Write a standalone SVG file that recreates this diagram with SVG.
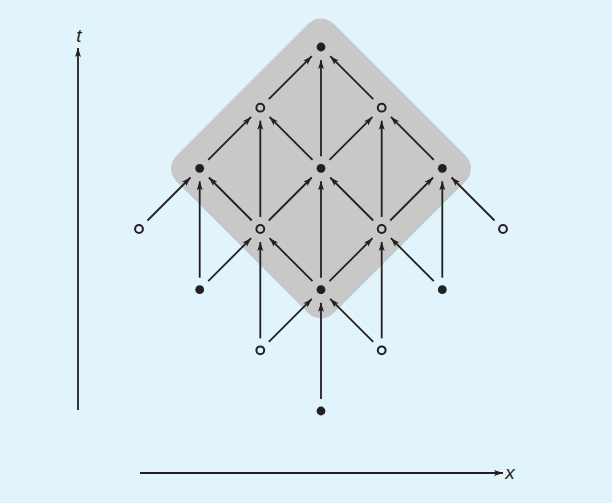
<svg xmlns="http://www.w3.org/2000/svg" width="612" height="503" viewBox="0 0 612 503">
<style>
.e{stroke:#231f20;stroke-width:1.8;fill:none;marker-end:url(#ah)}
.f{fill:#231f20}
.o{fill:none;stroke:#231f20;stroke-width:2}
.lbl{font-family:"Liberation Sans",Arial,sans-serif;font-style:italic;font-size:19px;fill:#231f20}
</style>
<defs>
<marker id="ah" markerUnits="userSpaceOnUse" markerWidth="12" markerHeight="8" viewBox="-10 -4 11 8" refX="0" refY="0" orient="auto" overflow="visible">
<path d="M0,0 L-9,-3 L-7,0 L-9,3 Z" fill="#231f20"/>
</marker>
</defs>
<rect width="612" height="503" fill="#e1f3fb"/>
<g id="region">
<rect x="-111.3" y="-111.3" width="222.6" height="222.6" rx="18" fill="#c8c8c9" transform="translate(321,168.5) rotate(45)"/>
</g>
<g id="axes">
<line class="e" x1="78" y1="410" x2="78" y2="48"/>
<line class="e" x1="140" y1="473" x2="503" y2="473"/>
<text class="lbl" x="79" y="42" text-anchor="middle">t</text>
<text class="lbl" x="510" y="479" text-anchor="middle">x</text>
</g>
<g id="connectors">
<line class="e" x1="268.8" y1="99.2" x2="311.8" y2="56.2"/>
<line class="e" x1="373.2" y1="99.2" x2="330.2" y2="56.2"/>
<line class="e" x1="321" y1="156.3" x2="321" y2="60"/>
<line class="e" x1="208.2" y1="159.8" x2="251.1" y2="116.9"/>
<line class="e" x1="312.5" y1="159.8" x2="269.5" y2="116.9"/>
<line class="e" x1="260.3" y1="217" x2="260.3" y2="120.7"/>
<line class="e" x1="329.5" y1="159.8" x2="372.5" y2="116.9"/>
<line class="e" x1="433.8" y1="159.8" x2="390.9" y2="116.9"/>
<line class="e" x1="381.7" y1="217" x2="381.7" y2="120.7"/>
<line class="e" x1="147.5" y1="220.5" x2="190.5" y2="177.5"/>
<line class="e" x1="251.8" y1="220.5" x2="208.9" y2="177.5"/>
<line class="e" x1="199.7" y1="277.7" x2="199.7" y2="181.3"/>
<line class="e" x1="268.8" y1="220.5" x2="311.8" y2="177.5"/>
<line class="e" x1="373.2" y1="220.5" x2="330.2" y2="177.5"/>
<line class="e" x1="321" y1="277.7" x2="321" y2="181.3"/>
<line class="e" x1="390.2" y1="220.5" x2="433.1" y2="177.5"/>
<line class="e" x1="494.5" y1="220.5" x2="451.5" y2="177.5"/>
<line class="e" x1="442.3" y1="277.7" x2="442.3" y2="181.3"/>
<line class="e" x1="208.2" y1="281.2" x2="251.1" y2="238.2"/>
<line class="e" x1="312.5" y1="281.2" x2="269.5" y2="238.2"/>
<line class="e" x1="260.3" y1="338.3" x2="260.3" y2="242"/>
<line class="e" x1="329.5" y1="281.2" x2="372.5" y2="238.2"/>
<line class="e" x1="433.8" y1="281.2" x2="390.9" y2="238.2"/>
<line class="e" x1="381.7" y1="338.3" x2="381.7" y2="242"/>
<line class="e" x1="268.8" y1="341.8" x2="311.8" y2="298.9"/>
<line class="e" x1="373.2" y1="341.8" x2="330.2" y2="298.9"/>
<line class="e" x1="321" y1="399" x2="321" y2="302.7"/>
</g>
<g id="n30"><circle class="f" cx="321" cy="47" r="4.4"/></g>
<g id="n21"><circle class="o" cx="260.3" cy="107.7" r="3.9"/></g>
<g id="n41"><circle class="o" cx="381.7" cy="107.7" r="3.9"/></g>
<g id="n12"><circle class="f" cx="199.7" cy="168.3" r="4.4"/></g>
<g id="n32"><circle class="f" cx="321" cy="168.3" r="4.4"/></g>
<g id="n52"><circle class="f" cx="442.3" cy="168.3" r="4.4"/></g>
<g id="n03"><circle class="o" cx="139" cy="229" r="3.9"/></g>
<g id="n23"><circle class="o" cx="260.3" cy="229" r="3.9"/></g>
<g id="n43"><circle class="o" cx="381.7" cy="229" r="3.9"/></g>
<g id="n63"><circle class="o" cx="503" cy="229" r="3.9"/></g>
<g id="n14"><circle class="f" cx="199.7" cy="289.7" r="4.4"/></g>
<g id="n34"><circle class="f" cx="321" cy="289.7" r="4.4"/></g>
<g id="n54"><circle class="f" cx="442.3" cy="289.7" r="4.4"/></g>
<g id="n25"><circle class="o" cx="260.3" cy="350.3" r="3.9"/></g>
<g id="n45"><circle class="o" cx="381.7" cy="350.3" r="3.9"/></g>
<g id="n36"><circle class="f" cx="321" cy="411" r="4.4"/></g>
</svg>
